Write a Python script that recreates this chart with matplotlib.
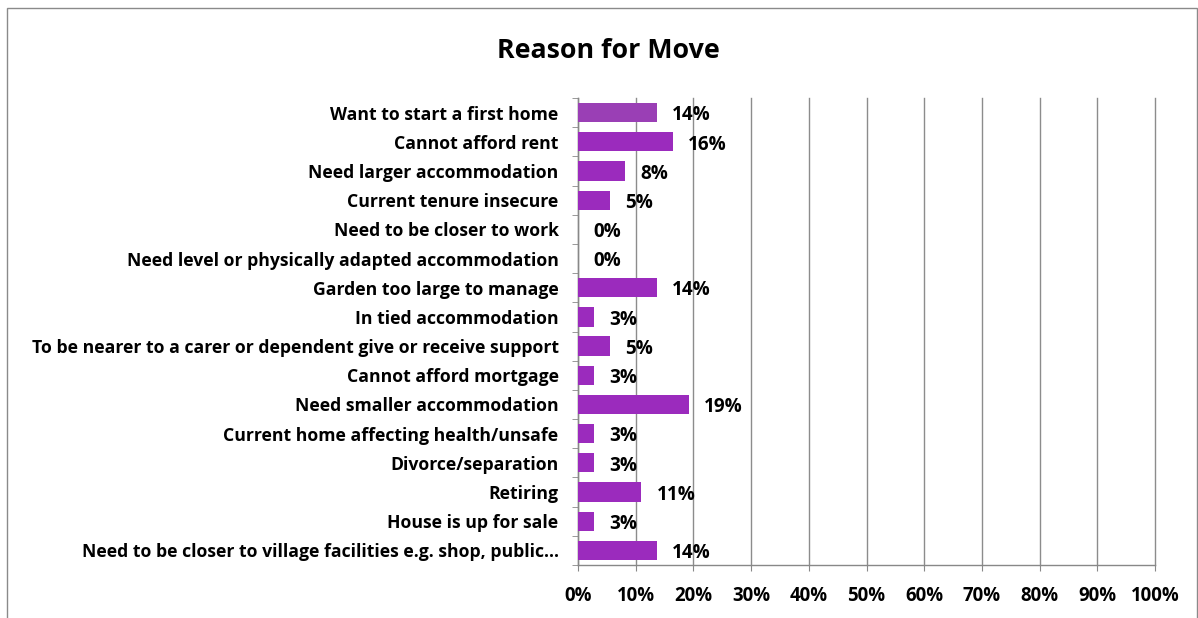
import matplotlib
matplotlib.use("Agg")
import matplotlib.pyplot as plt
from matplotlib.patches import Rectangle
from matplotlib.ticker import FuncFormatter, MultipleLocator, FixedLocator

categories = [
    "Want to start a first home",
    "Cannot afford rent",
    "Need larger accommodation",
    "Current tenure insecure",
    "Need to be closer to work",
    "Need level or physically adapted accommodation",
    "Garden too large to manage",
    "In tied accommodation",
    "To be nearer to a carer or dependent give or receive support",
    "Cannot afford mortgage",
    "Need smaller accommodation",
    "Current home affecting health/unsafe",
    "Divorce/separation",
    "Retiring",
    "House is up for sale",
    "Need to be closer to village facilities e.g. shop, public\u2026",
]
values = [13.7, 16.4, 8.2, 5.5, 0.0, 0.0, 13.7, 2.7, 5.5, 2.7, 19.2, 2.7, 2.7, 11.0, 2.7, 13.7]
value_labels = ["14%", "16%", "8%", "5%", "0%", "0%", "14%", "3%", "5%", "3%", "19%", "3%", "3%", "11%", "3%", "14%"]
title = "Reason for Move"

FONT = ["Open Sans", "DejaVu Sans"]
plt.rcParams['font.family'] = FONT
FS_Y = 12.7
FS_V = 13.6
FS_X = 13.4

fig = plt.figure(figsize=(11.98, 6.18), dpi=100)
W, H = 1198, 618
ax = fig.add_axes([578 / W, 1 - 565 / H, (1155 - 578) / W, (565 - 98) / H])

n = len(categories)
ypos = list(range(n))
colors = ['#9a3fb5'] + ['#9b2bbd'] * (n - 1)
ax.barh(ypos, values, height=0.66, color=colors, zorder=3)

for y, v, lab in zip(ypos, values, value_labels):
    ax.annotate(lab, xy=(v, y), xytext=(11, -2), textcoords='offset points',
                ha='left', va='center', fontsize=FS_V, fontweight='bold', color='black', zorder=4)

ax.set_xlim(0, 100)
ax.set_ylim(n - 0.5, -0.5)
ax.xaxis.set_major_locator(MultipleLocator(10))
ax.xaxis.set_major_formatter(FuncFormatter(lambda x, p: f"{int(round(x))}%"))
ax.set_yticks(ypos)
ax.set_yticklabels(categories)
ax.yaxis.set_minor_locator(FixedLocator([i - 0.5 for i in range(n + 1)]))
ax.tick_params(axis='y', which='major', length=0, pad=14, labelsize=FS_Y)
ax.tick_params(axis='y', which='minor', length=4, color='#888888', direction='out')
ax.tick_params(axis='x', which='major', length=4, color='#888888', direction='out', pad=11, labelsize=FS_X)
for t in ax.get_yticklabels() + ax.get_xticklabels():
    t.set_fontweight('bold')

ax.grid(axis='x', color='#8c8c8c', linewidth=1.0, zorder=0)
ax.set_axisbelow(True)
for gl in ax.get_xgridlines():
    gl.set_clip_on(False)
for s in ['top', 'right']:
    ax.spines[s].set_visible(False)
for s in ['left', 'bottom']:
    ax.spines[s].set_color('#888888')
    ax.spines[s].set_linewidth(1.0)

fig.text(608 / W, 1 - 51 / H, title, ha='center', va='center', fontsize=19.3, fontweight='bold')

fig.patches.append(Rectangle((7 / W, -0.02), (1197 - 7) / W, 1 - 8 / H + 0.02,
                             transform=fig.transFigure, fill=False, edgecolor='#8a8a8a', linewidth=1.0))

fig.savefig("out.png", dpi=100)
